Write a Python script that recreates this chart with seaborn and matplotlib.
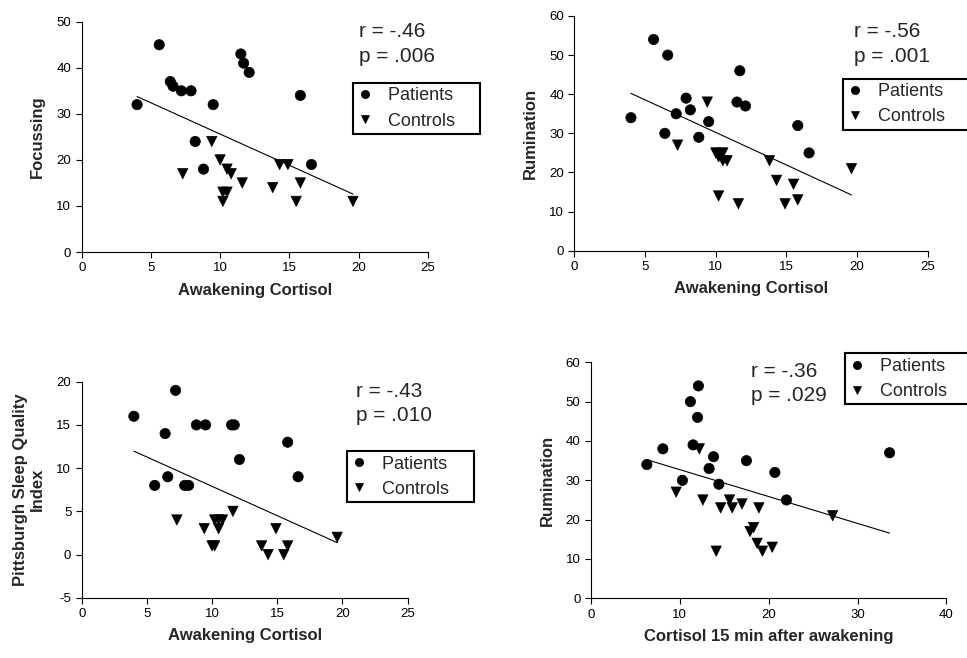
import numpy as np
import pandas as pd
import seaborn as sns
import matplotlib.pyplot as plt

# values
pat_cort = [4.0, 5.6, 6.4, 6.6, 7.2, 7.9, 8.2, 8.8, 9.5, 11.5, 11.7, 12.1, 15.8, 16.6]
pat_focus = [32, 45, 37, 36, 35, 35, 24, 18, 32, 43, 41, 39, 34, 19]
pat_rum = [34, 54, 30, 50, 35, 39, 36, 29, 33, 38, 46, 37, 32, 25]
pat_psqi = [16, 8, 14, 9, 19, 8, 8, 15, 15, 15, 15, 11, 13, 9]
pat_c15 = [6.3, 12.1, 10.3, 11.2, 17.5, 11.5, 13.8, 14.4, 13.3, 8.1, 12.0, 33.6, 20.7, 22.0]

ctl_cort = [7.3, 9.4, 10.0, 10.2, 10.2, 10.5, 10.5, 10.8, 11.6, 13.8, 14.3, 14.9, 15.5, 15.8, 19.6]
ctl_focus = [17, 24, 20, 13, 11, 13, 18, 17, 15, 14, 19, 19, 11, 15, 11]
ctl_rum = [27, 38, 25, 14, 24, 25, 23, 23, 12, 23, 18, 12, 17, 13, 21]
ctl_psqi = [4, 3, 1, 1, 4, 4, 3, 4, 5, 1, 0, 3, 0, 1, 2]
ctl_c15 = [9.6, 12.2, 12.6, 18.7, 17.0, 15.6, 14.6, 15.9, 14.1, 18.9, 18.3, 19.3, 17.9, 20.4, 27.2]

stats_text = ["r = -.46\np = .006", "r = -.56\np = .001", "r = -.43\np = .010", "r = -.36\np = .029"]

df = pd.DataFrame({
    "group": ["Patients"] * len(pat_cort) + ["Controls"] * len(ctl_cort),
    "cort": pat_cort + ctl_cort,
    "c15": pat_c15 + ctl_c15,
    "focus": pat_focus + ctl_focus,
    "rum": pat_rum + ctl_rum,
    "psqi": pat_psqi + ctl_psqi,
})

sns.set_style("ticks")
plt.rcParams["font.family"] = ["Liberation Sans", "DejaVu Sans"]
plt.rcParams["axes.unicode_minus"] = False

fig = plt.figure(figsize=(9.67, 6.58), dpi=100)

# (x col, y col, xlabel, ylabel, xlim, xstep, ylim, ystep, axes rect, text pos, legend anchor)
panels = [
    ("cort", "focus", "Awakening Cortisol", "Focussing", 25, 5, (0, 50), 10,
     [0.0845, 0.617, 0.3578, 0.350], (0.80, 0.998), (0.784, 0.734)),
    ("cort", "rum", "Awakening Cortisol", "Rumination", 25, 5, (0, 60), 10,
     [0.594, 0.619, 0.3655, 0.3567], (0.79, 0.975), (0.760, 0.733)),
    ("cort", "psqi", "Awakening Cortisol", "Pittsburgh Sleep Quality\nIndex", 25, 5, (-5, 20), 5,
     [0.0845, 0.0916, 0.337, 0.3283], (0.843, 1.0), (0.814, 0.679)),
    ("c15", "rum", "Cortisol 15 min after awakening", "Rumination", 40, 10, (0, 60), 10,
     [0.611, 0.0907, 0.3678, 0.3587], (0.45, 1.003), (0.714, 1.038)),
]

for i, (xc, yc, xl, yl, xmax, xstep, ylim, ystep, rect, tpos, lpos) in enumerate(panels):
    ax = fig.add_axes(rect)
    sns.scatterplot(data=df, x=xc, y=yc, style="group", markers={"Patients": "o", "Controls": "v"},
                    color="black", edgecolor="black", linewidth=0.5, s=55, ax=ax, legend="full")
    sns.regplot(data=df, x=xc, y=yc, scatter=False, ci=None, truncate=True, ax=ax,
                line_kws={"color": "black", "lw": 0.8})
    ax.set_xlim(0, xmax)
    ax.set_ylim(*ylim)
    ax.set_xticks(np.arange(0, xmax + 1, xstep))
    ax.set_yticks(np.arange(ylim[0], ylim[1] + 1, ystep))
    ax.tick_params(labelsize=9.5, length=4, width=0.8, colors="black")
    for side in ["left", "bottom"]:
        ax.spines[side].set_linewidth(0.8)
        ax.spines[side].set_color("black")
    sns.despine(ax=ax)
    ax.set_xlabel(xl, fontsize=12, fontweight="bold", labelpad=6)
    ax.set_ylabel(yl, fontsize=12, fontweight="bold", labelpad=8)
    ax.text(tpos[0], tpos[1], stats_text[i], transform=ax.transAxes, va="top", ha="left",
            fontsize=15, linespacing=1.38)
    sns.move_legend(ax, "upper left", bbox_to_anchor=lpos, title=None, frameon=True,
                    fancybox=False, framealpha=1, fontsize=13, borderpad=0.25,
                    handlelength=0.8, handletextpad=0.9, labelspacing=0.45,
                    borderaxespad=0, markerscale=0.8)
    leg = ax.get_legend()
    leg.get_frame().set_edgecolor("black")
    leg.get_frame().set_linewidth(1.5)
    for t in leg.get_texts():
        t.set_text(t.get_text() + "    ")
    leg.set_clip_on(False)

plt.savefig("out.png", dpi=100)
